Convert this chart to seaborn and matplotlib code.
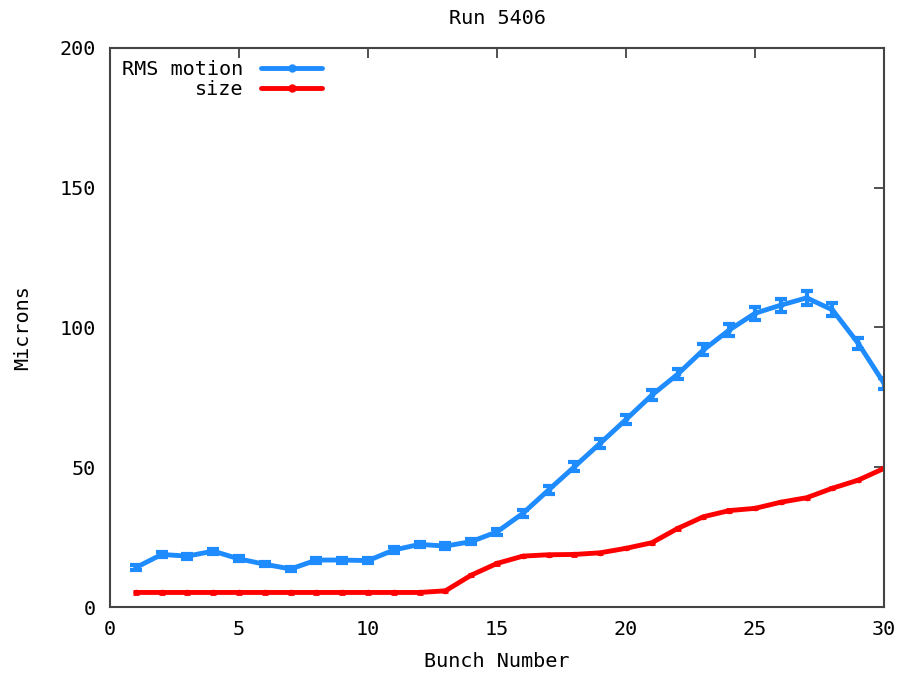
import numpy as np
import pandas as pd
import matplotlib
matplotlib.use("Agg")
import matplotlib.pyplot as plt
import seaborn as sns
from matplotlib.lines import Line2D

bunch = list(range(1, 31))
rms_motion = [14.1, 18.8, 18.2, 20.0, 17.2, 15.3, 13.6, 16.8, 16.8, 16.6,
              20.4, 22.4, 21.8, 23.4, 26.9, 33.5, 41.9, 50.2, 58.6, 67.1,
              75.8, 83.3, 92.0, 99.1, 105.1, 108.0, 110.6, 106.3, 94.3, 80.0]
rms_err = [0.8, 0.9, 0.9, 0.9, 0.9, 0.8, 0.8, 0.9, 0.9, 0.9,
           1.0, 1.0, 1.0, 1.0, 1.1, 1.2, 1.4, 1.5, 1.6, 1.7,
           1.8, 1.9, 2.0, 2.1, 2.3, 2.3, 2.4, 2.3, 2.1, 1.9]
size = [5.2, 5.2, 5.2, 5.2, 5.2, 5.2, 5.2, 5.2, 5.2, 5.2,
        5.2, 5.2, 5.8, 11.4, 15.6, 18.2, 18.7, 18.8, 19.4, 21.0,
        23.0, 28.1, 32.3, 34.5, 35.3, 37.5, 39.1, 42.5, 45.4, 49.6]
size_err = [0.4] * 30

blue = "#1e8cff"
red = "#ff0000"

df = pd.DataFrame({"bunch": bunch + bunch,
                   "value": rms_motion + size,
                   "series": ["RMS motion"] * 30 + ["size"] * 30})

sns.set_theme(style="white")
plt.rcParams["font.family"] = ["DejaVu Sans Mono", "DejaVu Sans"]
plt.rcParams["text.color"] = "black"
plt.rcParams["axes.labelcolor"] = "black"

FS = 14.5

fig = plt.figure(figsize=(8.99, 6.74), dpi=100)
ax = fig.add_axes([0.1224, 0.0994, 0.8610, 0.8294])

sns.lineplot(data=df, x="bunch", y="value", hue="series",
             palette={"RMS motion": blue, "size": red},
             linewidth=3.5, marker="o", markersize=4, markeredgewidth=0,
             legend=False, ax=ax)
ax.errorbar(bunch, rms_motion, yerr=rms_err, fmt="none", ecolor=blue,
            elinewidth=3, capsize=4.5, capthick=3)
ax.errorbar(bunch, size, yerr=size_err, fmt="none", ecolor=red,
            elinewidth=2.5, capsize=2, capthick=2)

ax.set_xlim(0, 30)
ax.set_ylim(0, 200)
ax.set_xticks([0, 5, 10, 15, 20, 25, 30])
ax.set_yticks([0, 50, 100, 150, 200])
ax.tick_params(direction="in", length=7, width=1.2, top=True, right=True,
               labelsize=FS, colors="#333333", labelcolor="black")
ax.tick_params(axis="x", pad=9)
ax.tick_params(axis="y", pad=10)
for s in ax.spines.values():
    s.set_color("#444444")
    s.set_linewidth(1.5)

ax.set_xlabel("Bunch Number", fontsize=FS, labelpad=10)
ax.set_ylabel("Microns", fontsize=FS)
ax.yaxis.set_label_coords(-0.101, 0.5)
ax.set_title("Run 5406", fontsize=FS, pad=17)

handles = [Line2D([0], [0], color=blue, lw=3.5, marker="o", markersize=5),
           Line2D([0], [0], color=red, lw=3.5, marker="o", markersize=5)]
leg = ax.legend(handles, ["RMS motion", "size"], loc="upper left",
                markerfirst=False, frameon=False, fontsize=FS,
                numpoints=1, handlelength=3.0, handletextpad=0.9,
                labelspacing=0.05, borderaxespad=0.2)
for t in leg.get_texts():
    t.set_ha("right")
leg._legend_box.align = "right"

fig.savefig("out.png", dpi=100)
